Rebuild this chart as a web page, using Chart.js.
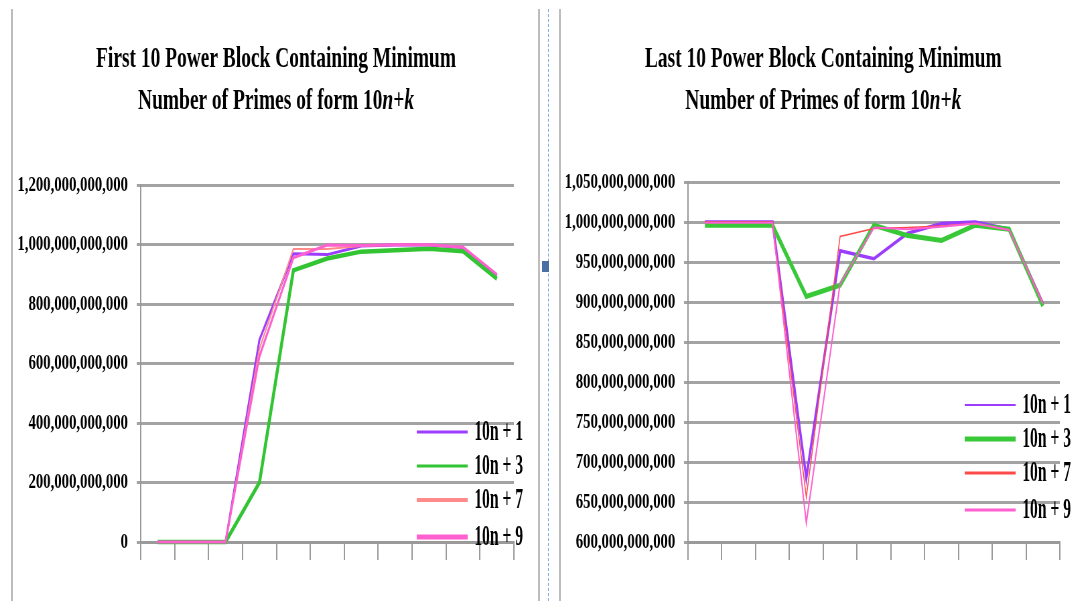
<!DOCTYPE html>
<html>
<head>
<meta charset="utf-8">
<script src="https://cdn.jsdelivr.net/npm/chart.js@4/dist/chart.umd.min.js"></script>
<style>
body{margin:0;background:#fff;width:1072px;height:601px;overflow:hidden;position:relative}
canvas{position:absolute;top:0;transform-origin:0 0;transform:scaleX(0.67)}
#c1{left:0}
#c2{left:560px}
.vl{position:absolute;top:9px;bottom:0;width:0;border-left:2px solid #bdbdbd}
</style>
</head>
<body>
<div class="vl" style="left:11px"></div>
<div class="vl" style="left:538px"></div>
<div class="vl" style="left:548px;border-left:1px dashed #86aee8"></div>
<div class="vl" style="left:559px"></div>
<div style="position:absolute;left:542px;top:261px;width:7px;height:11px;background:#4a6fa5"></div>
<canvas id="c1" width="806" height="601"></canvas>
<canvas id="c2" width="764" height="601"></canvas>
<script>
// 11 blocks along the x axis (no labels shown in the picture)
const blocks=['1','2','3','4','5','6','7','8','9','10','11'];
const seriesNames=['10n + 1','10n + 3','10n + 7','10n + 9'];

// values in billions
const first1=[0,0,0,680,969,966,995,998,998,990,896];
const first3=[0,0,0,200,913,953,976,981,986,977,885];
const first7=[0,0,0,650,985,985,995,999,999,992,899];
const first9=[0,0,0,624,955,998,997,999,999,991,899];

const last1=[1000,1000,1000,680,964,954,986,998,1000,991,898];
const last3=[996,996,996,907,921,996,983,977,996,991,895];
const last7=[1000,1000,1000,656,982,992,993,995,998,990,899];
const last9=[999,999,999,624,923,993,991,994,998,990,898];

const firstTicks=[0,200,400,600,800,1000,1200];
const lastTicks=[600,650,700,750,800,850,900,950,1000,1050];

const FONT='"Liberation Serif"';

function fmt(v){
  return Math.round(v).toString().replace(/\B(?=(\d{3})+(?!\d))/g,',');
}

function titlePlugin(line1,cx){
  return {id:'tt',afterDraw(c){
    const x=c.ctx;
    x.save();
    x.fillStyle='#000';
    x.textAlign='center';
    x.font='bold 29px '+FONT;
    x.fillText(line1,cx,67);
    const parts=[['Number of Primes of form 10',''],['n','italic '],['+',''],['k','italic ']];
    let w=0;
    parts.forEach(p=>{x.font=p[1]+'bold 29px '+FONT;p.w=x.measureText(p[0]).width;w+=p.w;});
    let px=cx-w/2;
    x.textAlign='left';
    parts.forEach(p=>{x.font=p[1]+'bold 29px '+FONT;x.fillText(p[0],px,109);px+=p.w;});
    x.restore();
  }};
}

function legendPlugin(lx,rows,lw){
  return {id:'lg',afterDraw(c){
    const x=c.ctx;
    x.save();
    c.data.datasets.forEach((d,i)=>{
      const y=rows[i];
      x.strokeStyle=d.borderColor;
      x.lineWidth=lw[i];
      x.beginPath();x.moveTo(lx,y);x.lineTo(lx+76,y);x.stroke();
      x.save();
      x.translate(lx+86,y);
      x.scale(0.8,1);
      x.font='bold 29px '+FONT;
      x.fillStyle='#000';
      x.textBaseline='middle';
      x.fillText(d.label,0,1);
      x.restore();
    });
    x.restore();
  }};
}

function makeChart(id,vals,colors,widths,ticks,yWidth,pad,plugins){
  const ds=vals.map((v,i)=>({
    label:seriesNames[i],
    data:v.map(n=>n*1e9),
    borderColor:colors[i],
    backgroundColor:colors[i],
    borderWidth:widths[i],
    pointRadius:0,
    tension:0,
    clip:false,
    order:3-i
  }));
  return new Chart(document.getElementById(id),{
    type:'line',
    data:{labels:blocks,datasets:ds},
    options:{
      responsive:false,
      animation:false,
      layout:{padding:pad},
      plugins:{legend:{display:false},tooltip:{enabled:false}},
      scales:{
        x:{
          offset:true,
          grid:{offset:true,drawOnChartArea:false,drawTicks:true,tickLength:18,color:'#9a9a9a',lineWidth:2},
          border:{display:true,color:'#9a9a9a',width:3},
          ticks:{display:false}
        },
        y:{
          min:ticks[0]*1e9,
          max:ticks[ticks.length-1]*1e9,
          afterBuildTicks:s=>{s.ticks=ticks.map(t=>({value:t*1e9}));},
          afterFit:s=>{s.width=yWidth;},
          grid:{color:'#a3a3a3',lineWidth:3,tickLength:6},
          border:{display:true,color:'#999',width:2},
          ticks:{
            color:'#000',
            padding:13,
            font:{family:'Liberation Serif',weight:'bold',size:22},
            callback:v=>fmt(v)
          }
        }
      }
    },
    plugins:plugins
  });
}

makeChart('c1',[first1,first3,first7,first9],
  ['#9b3cff','#33c433','#ff8a8a','#ff5fcf'],[3,4.5,2,3],
  firstTicks,210,{left:0,right:39,top:185,bottom:41},
  [titlePlugin('First 10 Power Block Containing Minimum',412),legendPlugin(622,[432,466,500,537],[3,3,4,5])]);

makeChart('c2',[last1,last3,last7,last9],
  ['#9b3cff','#38c838','#ff4a4a','#ff5fcf'],[3.5,5,1.5,2],
  lastTicks,191,{left:0,right:18,top:182,bottom:41},
  [titlePlugin('Last 10 Power Block Containing Minimum',393),legendPlugin(604,[405,439,473,510],[2,5,3,3])]);
</script>
</body>
</html>
